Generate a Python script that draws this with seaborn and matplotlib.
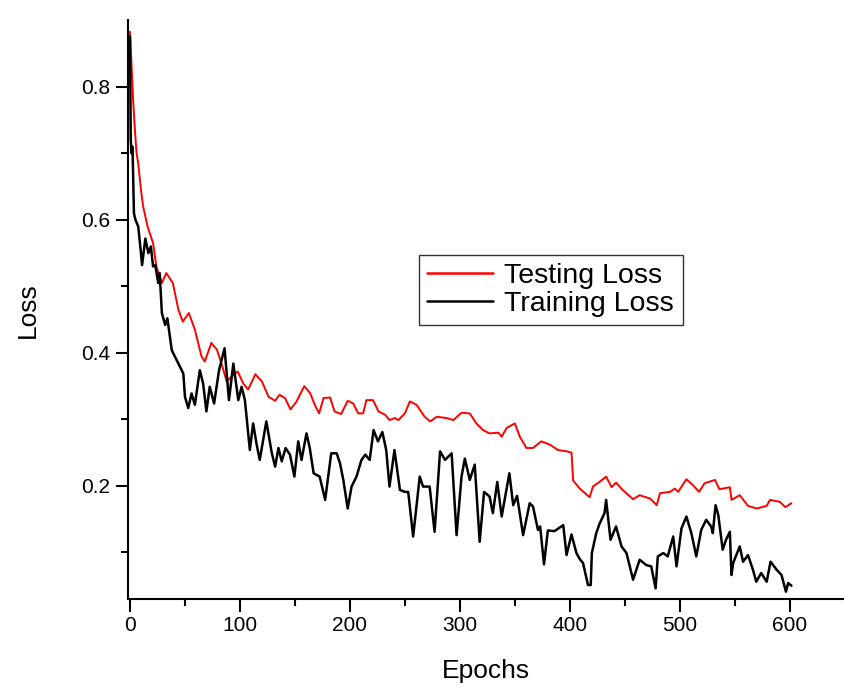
import numpy as np
import pandas as pd
import matplotlib
matplotlib.use("Agg")
import matplotlib.pyplot as plt
import seaborn as sns

# values
test_epochs = [0, 1.5, 3, 4.5, 6, 7.5, 10, 12, 16, 18, 21, 24, 29, 33, 39, 44, 48, 53.5,
               59, 65, 68, 74, 79, 83, 88, 92, 98, 103, 107.5, 114, 120, 126, 132, 136,
               141, 146, 151.5, 158.5, 164, 168, 172, 176, 182, 186, 192, 198, 203, 207.5,
               212, 215, 221, 226, 232, 236, 241, 244, 250, 254.5, 260.5, 268, 273, 279,
               288, 294, 301.5, 309, 315, 321, 327, 335, 338, 342.5, 350, 354.5, 360.5,
               366.5, 374, 382, 389, 397, 401.5, 403, 409, 418, 421, 427, 433, 438, 442,
               448, 457.5, 463.5, 473, 479, 482, 491, 495.5, 498.5, 506, 512, 517.5,
               522.5, 532, 536, 545.5, 547, 554.5, 562, 570, 579, 582, 591, 596, 601.5]
test_loss = [0.883, 0.83, 0.776, 0.735, 0.70, 0.685, 0.645, 0.62, 0.59, 0.58, 0.565, 0.53,
             0.505, 0.52, 0.505, 0.465, 0.447, 0.46, 0.435, 0.395, 0.387, 0.415, 0.405,
             0.385, 0.357, 0.364, 0.372, 0.354, 0.345, 0.368, 0.357, 0.334, 0.328, 0.337,
             0.332, 0.315, 0.327, 0.35, 0.339, 0.322, 0.309, 0.332, 0.333, 0.312, 0.308,
             0.328, 0.324, 0.309, 0.309, 0.329, 0.329, 0.312, 0.307, 0.299, 0.302, 0.299,
             0.309, 0.327, 0.322, 0.304, 0.297, 0.304, 0.302, 0.299, 0.31, 0.309, 0.294,
             0.284, 0.279, 0.28, 0.274, 0.287, 0.294, 0.274, 0.257, 0.257, 0.267, 0.262,
             0.254, 0.252, 0.25, 0.208, 0.196, 0.183, 0.199, 0.206, 0.214, 0.198, 0.205,
             0.194, 0.18, 0.186, 0.181, 0.171, 0.189, 0.191, 0.196, 0.191, 0.21, 0.201,
             0.191, 0.204, 0.209, 0.195, 0.198, 0.179, 0.186, 0.17, 0.166, 0.17, 0.179,
             0.176, 0.168, 0.174]

train_epochs = [0, 0.7, 1.5, 2.3, 3.6, 5, 7.5, 10, 11, 14, 16.7, 19, 21, 23, 25.7, 27, 29,
                32, 34, 38, 44, 48.5, 50, 53, 56, 59, 63.5, 66.5, 69.5, 72.5, 76.5, 81, 86,
                90, 94, 98.5, 101.5, 104.5, 109, 112, 115, 118, 124, 129, 132, 135, 138,
                141.5, 145.5, 149.5, 153, 156, 160.5, 163.5, 167, 172.5, 177.5, 183, 188,
                191, 194, 198, 201.5, 206, 210.5, 214, 218, 221.5, 225.5, 229.5, 233, 236,
                240.5, 245.5, 250, 253, 257.5, 263.5, 266.5, 272.5, 277, 282, 286.5, 292.5,
                297, 301.5, 304.5, 309, 313.5, 318, 322, 327, 330, 334, 338, 345, 348.5,
                352, 357.5, 363.5, 366.5, 371, 373, 376.5, 380, 386, 394, 397, 401.5, 406,
                409, 412, 416.5, 419, 420, 424, 427, 431.5, 433, 437, 442, 447, 451.5,
                457.5, 463.5, 469.5, 474, 478, 480, 485, 489, 494, 497, 501.5, 506, 510.5,
                515, 519.5, 524, 528.5, 530, 532.5, 535, 539, 542, 545.5, 547, 548.5,
                554.5, 557.5, 562, 566.5, 569.5, 574, 579, 582.5, 588, 592.5, 596.5,
                598.5, 601.5]
train_loss = [0.876, 0.72, 0.70, 0.71, 0.61, 0.60, 0.59, 0.55, 0.532, 0.572, 0.55, 0.56,
              0.53, 0.532, 0.505, 0.52, 0.46, 0.442, 0.452, 0.404, 0.384, 0.369, 0.334,
              0.317, 0.339, 0.322, 0.374, 0.354, 0.312, 0.349, 0.324, 0.374, 0.407, 0.329,
              0.384, 0.329, 0.349, 0.329, 0.254, 0.294, 0.264, 0.239, 0.297, 0.249, 0.229,
              0.257, 0.237, 0.257, 0.247, 0.214, 0.267, 0.239, 0.279, 0.257, 0.219, 0.214,
              0.179, 0.249, 0.249, 0.234, 0.209, 0.166, 0.199, 0.214, 0.239, 0.247, 0.239,
              0.284, 0.267, 0.281, 0.254, 0.199, 0.254, 0.194, 0.191, 0.191, 0.124, 0.214,
              0.199, 0.199, 0.131, 0.252, 0.239, 0.249, 0.126, 0.214, 0.241, 0.209, 0.232,
              0.116, 0.191, 0.184, 0.159, 0.206, 0.154, 0.219, 0.171, 0.185, 0.126, 0.174,
              0.169, 0.134, 0.139, 0.082, 0.133, 0.132, 0.141, 0.096, 0.127, 0.099, 0.09,
              0.084, 0.051, 0.051, 0.099, 0.129, 0.143, 0.159, 0.179, 0.119, 0.139, 0.109,
              0.099, 0.059, 0.089, 0.081, 0.079, 0.046, 0.094, 0.099, 0.094, 0.124, 0.079,
              0.136, 0.154, 0.129, 0.094, 0.134, 0.149, 0.139, 0.129, 0.171, 0.156, 0.104,
              0.119, 0.131, 0.066, 0.084, 0.109, 0.086, 0.096, 0.074, 0.056, 0.069, 0.056,
              0.086, 0.074, 0.066, 0.041, 0.054, 0.05]

x_ticks = [0, 100, 200, 300, 400, 500, 600]
y_ticks = [0.2, 0.4, 0.6, 0.8]

sns.set_style("ticks")
plt.rcParams["font.family"] = ["Liberation Sans", "DejaVu Sans"]
plt.rcParams["text.color"] = "black"
plt.rcParams["axes.labelcolor"] = "black"

test_df = pd.DataFrame({"Epochs": test_epochs, "Loss": test_loss})
train_df = pd.DataFrame({"Epochs": train_epochs, "Loss": train_loss})

fig = plt.figure(figsize=(8.44, 6.88), dpi=100)
ax = fig.add_axes([0.1514, 0.1294, 0.8495, 0.841])

sns.lineplot(data=test_df, x="Epochs", y="Loss", ax=ax, color="#ff0000",
             linewidth=1.4, estimator=None, sort=False, label="Testing Loss")
sns.lineplot(data=train_df, x="Epochs", y="Loss", ax=ax, color="black",
             linewidth=1.8, estimator=None, sort=False, label="Training Loss")

ax.set_xlim(-2, 650)
ax.set_ylim(0.03, 0.9)
ax.set_xticks(x_ticks)
ax.set_yticks(y_ticks)
ax.set_xticks([50, 150, 250, 350, 450, 550], minor=True)
ax.set_yticks([0.1, 0.3, 0.5, 0.7], minor=True)
ax.set_xticklabels([str(t) for t in x_ticks])
ax.set_yticklabels([f"{t:.1f}" for t in y_ticks])

sns.despine(ax=ax)
for side in ["left", "bottom"]:
    ax.spines[side].set_linewidth(1.5)
    ax.spines[side].set_color("black")
ax.tick_params(which="major", direction="out", length=9, width=1.5,
               labelsize=15, colors="black")
ax.tick_params(which="minor", direction="out", length=5, width=1.5, colors="black")

ax.set_xlabel("Epochs", fontsize=19, labelpad=17, color="black")
ax.set_ylabel("Loss", fontsize=19, labelpad=30, color="black")

leg = ax.legend(loc="upper left", bbox_to_anchor=(0.406, 0.595), borderaxespad=0,
                fontsize=20.5, frameon=True, fancybox=False, handlelength=2.3,
                handletextpad=0.4, borderpad=0.3, labelspacing=0.05)
leg.get_frame().set_edgecolor("black")
leg.get_frame().set_linewidth(1.0)
for line in leg.get_lines():
    line.set_linewidth(1.8)
for text in leg.get_texts():
    text.set_color("black")

fig.savefig("out.png", dpi=100, facecolor="white")
